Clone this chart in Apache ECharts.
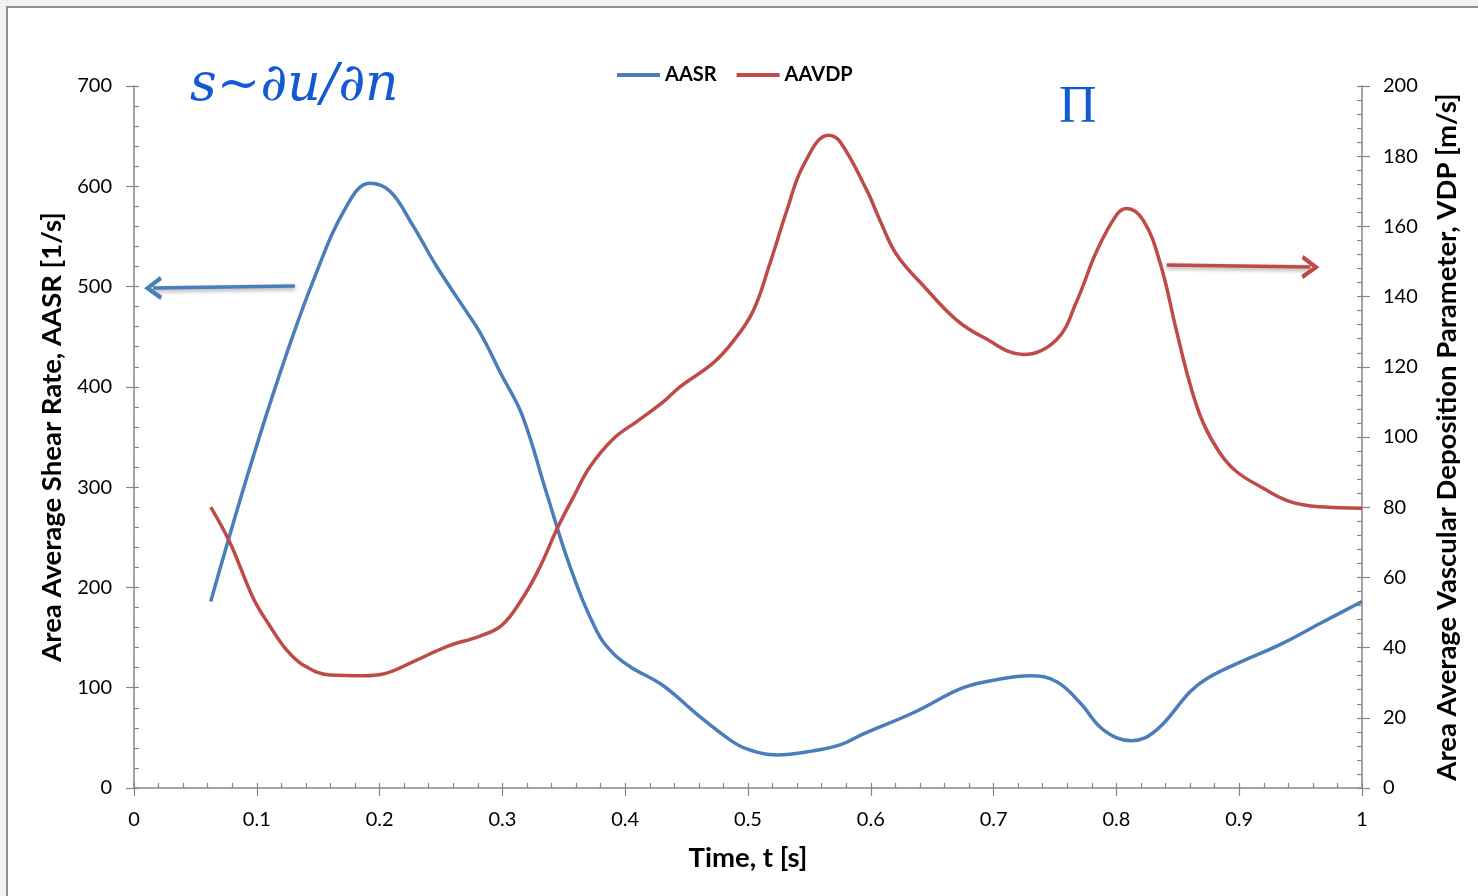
<!DOCTYPE html>
<html>
<head>
<meta charset="utf-8">
<script src="https://cdn.jsdelivr.net/npm/echarts@6.0.0/dist/echarts.min.js"></script>
<style>
  html, body { margin: 0; padding: 0; background: #f2f2f2; }
  #chart { width: 1478px; height: 896px; }
</style>
</head>
<body>
<div id="chart"></div>
<script>
// AASR (left axis)
const Time_AASR = [0.0625, 0.092, 0.119, 0.146, 0.173, 0.192, 0.2085, 0.2275, 0.2465, 0.268, 0.2818, 0.2997, 0.316, 0.336, 0.355, 0.377, 0.3904, 0.404, 0.431, 0.458, 0.4853, 0.499, 0.5234, 0.553, 0.575, 0.594, 0.6346, 0.6753, 0.7025, 0.7296, 0.7514, 0.7704, 0.7894, 0.8124, 0.8328, 0.86, 0.8735, 0.898, 0.9332, 0.9658, 1.0];
const Data_AASR = [186, 310, 414, 506, 580, 603, 595, 560, 520, 480, 454, 411, 372, 294, 221, 156, 134, 121, 102, 74, 48, 39, 33, 37, 43, 54, 75, 100, 108, 112, 106, 85, 58, 47, 58, 96, 109, 124, 143, 164, 186];

// AAVDP (right axis)
const Time_AAVDP = [0.0625, 0.078, 0.0972, 0.11, 0.1243, 0.1379, 0.1596, 0.1867, 0.203, 0.2275, 0.2546, 0.2818, 0.2997, 0.317, 0.3306, 0.345, 0.3577, 0.3713, 0.3904, 0.4094, 0.431, 0.4446, 0.4717, 0.488, 0.5043, 0.5179, 0.5315, 0.545, 0.5654, 0.575, 0.5966, 0.6075, 0.6211, 0.6428, 0.6699, 0.6916, 0.7242, 0.7514, 0.7677, 0.7839, 0.8002, 0.8084, 0.8219, 0.8355, 0.8491, 0.86, 0.8708, 0.8844, 0.898, 0.9196, 0.9414, 0.9658, 1.0];
const Data_AAVDP = [80, 70, 54, 46.5, 39.3, 35, 32.2, 32, 32.5, 36, 40.3, 43.3, 46.4, 54.4, 63, 74.2, 82.8, 91.5, 99.5, 104.4, 110, 114.3, 121.1, 127.3, 136, 149.5, 164.4, 177.3, 186, 184.1, 170.4, 161.7, 151.9, 143.1, 133.3, 128.4, 123.5, 127.8, 138.7, 152.9, 163.3, 165.1, 161.7, 149.7, 130, 115, 103.9, 95.4, 90.1, 85.4, 81.6, 80.1, 79.7];

// annotation arrows, in data units
const Arrow_AASR = [[0.131, 500.5], [0.0155, 498.5]];
const Arrow_AAVDP = [[0.841, 149], [0.958, 148.4]];

function pairs(xs, ys) {
  return xs.map((x, i) => [x, ys[i]]);
}

function renderChart() {
  const dom = document.getElementById("chart");
  const chart = echarts.init(dom);
  const axisColor = '#868686';
  const font = 'Lato';
  const chevron = 'path://M5,0 L10,8.5 L8.3,9.5 L5,3.6 L1.7,9.5 L0,8.5 Z';
  const nameStyle = { fontFamily: font, fontWeight: 'bold', fontSize: 27.5, color: '#000' };

  const baseX = {
    type: 'value',
    min: 0,
    max: 1,
    interval: 0.1,
    position: 'bottom',
    splitLine: { show: false }
  };
  const baseY = (pos, max, interval) => ({
    type: 'value',
    position: pos,
    min: 0,
    max: max,
    interval: interval,
    splitLine: { show: false }
  });
  // ticks inside (major + minor), with labels
  const inner = {
    axisLine: { show: true, onZero: false, lineStyle: { color: axisColor, width: 1.5 } },
    axisTick: { show: true, inside: true, length: 5, lineStyle: { color: axisColor, width: 1.2 } },
    minorTick: { show: true, splitNumber: 5, length: 5, lineStyle: { color: axisColor, width: 1.2 } }
  };
  // outer half of the crossing major ticks
  const outer = {
    axisLine: { show: false, onZero: false },
    axisTick: { show: true, inside: false, length: 8, lineStyle: { color: axisColor, width: 1.2 } },
    axisLabel: { show: false }
  };

  const option = {
    animation: false,
    backgroundColor: '#f2f2f2',
    grid: {
      left: 134,
      right: 116,
      top: 86,
      bottom: 108,
      containLabel: false
    },
    graphic: [
      {
        type: 'rect',
        z: -100,
        silent: true,
        shape: { x: 7, y: 7, width: 1500, height: 920 },
        style: { fill: '#ffffff', stroke: '#8e8e8e', lineWidth: 2 }
      },
      {
        type: 'text',
        left: 190,
        top: 60,
        silent: true,
        style: { text: 's~∂u/∂n', font: 'italic 52px "DejaVu Serif"', fill: '#1259d4' }
      },
      {
        type: 'text',
        left: 1059,
        top: 82,
        silent: true,
        style: { text: 'Π', font: '52px "Liberation Serif"', fill: '#1259d4' }
      }
    ],
    legend: {
      data: ['AASR', 'AAVDP'],
      left: 612,
      top: 60,
      icon: 'rect',
      itemWidth: 43,
      itemHeight: 4,
      itemGap: 20,
      textStyle: { fontFamily: font, fontWeight: 'bold', fontSize: 20, color: '#000' }
    },
    xAxis: [
      Object.assign({}, baseX, inner, {
        name: 'Time, t [s]',
        nameLocation: 'middle',
        nameGap: 56,
        nameTextStyle: nameStyle,
        axisLabel: { fontFamily: font, fontSize: 20, color: '#000', margin: 22 }
      }),
      Object.assign({}, baseX, outer)
    ],
    yAxis: [
      Object.assign(baseY('left', 700, 100), inner, {
        name: 'Area Average Shear Rate, AASR [1/s]',
        nameLocation: 'middle',
        nameGap: 66,
        nameTextStyle: nameStyle,
        axisLabel: { fontFamily: font, fontSize: 20, color: '#000', margin: 22 }
      }),
      Object.assign(baseY('right', 200, 20), inner, {
        name: 'Area Average Vascular Deposition Parameter, VDP [m/s]',
        nameLocation: 'middle',
        nameGap: 71,
        nameTextStyle: nameStyle,
        axisLabel: { fontFamily: font, fontSize: 20, color: '#000', margin: 21 }
      }),
      Object.assign(baseY('left', 700, 100), outer),
      Object.assign(baseY('right', 200, 20), outer)
    ],
    series: [
      {
        name: 'AASR',
        type: 'line',
        xAxisIndex: 0,
        yAxisIndex: 0,
        smooth: 0.4,
        showSymbol: false,
        color: '#4a7ebb',
        lineStyle: { width: 3.5, color: '#4a7ebb' },
        data: pairs(Time_AASR, Data_AASR),
        markLine: {
          silent: true,
          symbol: ['none', chevron],
          symbolSize: [24, 18],
          label: { show: false },
          lineStyle: {
            color: '#4a7ebb', width: 3.5, type: 'solid',
            shadowBlur: 4, shadowColor: 'rgba(0,0,0,0.35)', shadowOffsetY: 2
          },
          data: [[{ coord: Arrow_AASR[0] }, { coord: Arrow_AASR[1] }]]
        }
      },
      {
        name: 'AAVDP',
        type: 'line',
        xAxisIndex: 0,
        yAxisIndex: 1,
        smooth: 0.4,
        showSymbol: false,
        color: '#be4b48',
        lineStyle: { width: 3.5, color: '#be4b48' },
        data: pairs(Time_AAVDP, Data_AAVDP),
        markLine: {
          silent: true,
          symbol: ['none', chevron],
          symbolSize: [24, 18],
          label: { show: false },
          lineStyle: {
            color: '#be4b48', width: 3.5, type: 'solid',
            shadowBlur: 4, shadowColor: 'rgba(0,0,0,0.35)', shadowOffsetY: 2
          },
          data: [[{ coord: Arrow_AAVDP[0] }, { coord: Arrow_AAVDP[1] }]]
        }
      }
    ]
  };
  chart.setOption(option, true);
}
renderChart();
</script>
</body>
</html>
